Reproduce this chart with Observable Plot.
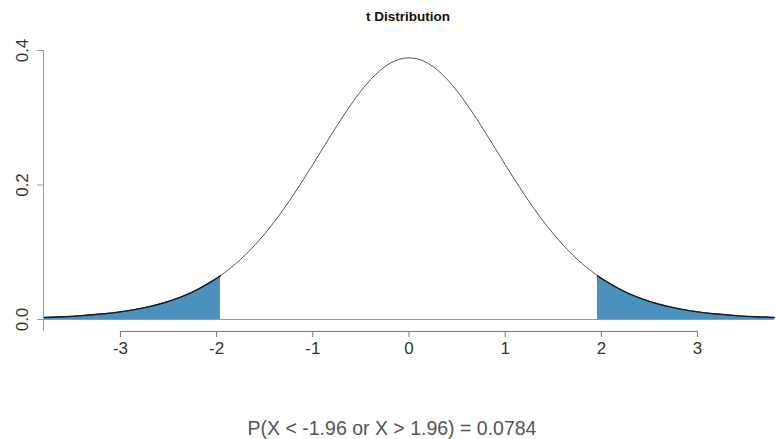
<!DOCTYPE html>
<html>
<head>
<meta charset="utf-8">
<script src="https://cdn.jsdelivr.net/npm/d3@7"></script>
<script src="https://cdn.jsdelivr.net/npm/@observablehq/plot@0.6"></script>
<style>
  html, body { margin: 0; padding: 0; background: #fff; }
  body { width: 776px; height: 439px; overflow: hidden; font-family: "Liberation Sans", Arial, sans-serif; }
  #title { box-sizing: border-box; width: 776px; height: 30px; line-height: 34px; padding-left: 40px;
           text-align: center; font-weight: bold; font-size: 13.5px; color: #111; }
  #chart { width: 776px; height: 360px; }
  #caption { box-sizing: border-box; width: 776px; height: 49px; padding-top: 28px; padding-left: 8px;
             line-height: 20px; text-align: center; font-size: 19.5px; color: #555; }
</style>
</head>
<body>
<div id="title">t Distribution</div>
<div id="chart"></div>
<div id="caption">P(X &lt; -1.96 or X &gt; 1.96) = 0.0784</div>
<script>
// t values read along the x axis
const tValues = [-3.8, -3.6, -3.4, -3.2, -3.0, -2.8, -2.6, -2.4, -2.2, -2.0, -1.96,
                 -1.8, -1.6, -1.4, -1.2, -1.0, -0.8, -0.6, -0.4, -0.2, 0,
                 0.2, 0.4, 0.6, 0.8, 1.0, 1.2, 1.4, 1.6, 1.8,
                 1.96, 2.0, 2.2, 2.4, 2.6, 2.8, 3.0, 3.2, 3.4, 3.6, 3.8];
// density heights
const density = [0.0029, 0.0040, 0.0057, 0.0081, 0.0114, 0.0161, 0.0227, 0.0319, 0.0444, 0.0611, 0.0651,
                 0.0831, 0.1111, 0.1454, 0.1857, 0.2304, 0.2766, 0.3203, 0.3566, 0.3807, 0.3891,
                 0.3807, 0.3566, 0.3203, 0.2766, 0.2304, 0.1857, 0.1454, 0.1111, 0.0831,
                 0.0651, 0.0611, 0.0444, 0.0319, 0.0227, 0.0161, 0.0114, 0.0081, 0.0057, 0.0040, 0.0029];
const cutoff = 1.96;
const xTicks = [-3, -2, -1, 0, 1, 2, 3];
const yTicks = [0, 0.2, 0.4];
const xDomain = [-3.8, 3.8];
const yDomain = [0, 0.4];

const curveData = tValues.map((x, i) => ({x, y: density[i]}));
const leftTail = curveData.filter(d => d.x <= -cutoff);
const rightTail = curveData.filter(d => d.x >= cutoff);

const axisGap = 12;
const fillColor = "#4a91bd";

const chart = Plot.plot({
  width: 776,
  height: 360,
  marginTop: 20,
  marginBottom: 59,
  marginLeft: 43,
  marginRight: 2,
  insetBottom: axisGap,
  style: {fontFamily: "Liberation Sans, Arial, sans-serif", fontSize: "17px", background: "#fff", color: "#333", overflow: "visible"},
  x: {domain: xDomain, label: null},
  y: {domain: yDomain, label: null},
  marks: [
    Plot.areaY(leftTail, {x: "x", y: "y", fill: fillColor, curve: "natural"}),
    Plot.areaY(rightTail, {x: "x", y: "y", fill: fillColor, curve: "natural"}),
    Plot.ruleY([0], {stroke: "#999", strokeWidth: 1}),
    Plot.line(curveData, {x: "x", y: "y", curve: "natural", stroke: "#555", strokeWidth: 1}),
    Plot.line(leftTail, {x: "x", y: "y", curve: "natural", stroke: "#1b1b1b", strokeWidth: 1.4}),
    Plot.line(rightTail, {x: "x", y: "y", curve: "natural", stroke: "#1b1b1b", strokeWidth: 1.4}),
    // y axis
    Plot.ruleX([xDomain[0]], {stroke: "#999", strokeWidth: 1}),
    Plot.axisY({ticks: yTicks, tickSize: 6, tickFormat: () => "", stroke: "#999", label: null}),
    Plot.text(yTicks, {y: d => d, frameAnchor: "left", dx: -21, rotate: -90, text: d => d.toFixed(1),
                       fontSize: 17, fill: "#333", textAnchor: "middle", lineAnchor: "middle"}),
    // x axis
    Plot.ruleY([0], {x1: xTicks[0], x2: xTicks[xTicks.length - 1], dy: axisGap, stroke: "#777", strokeWidth: 1}),
    Plot.axisX({ticks: xTicks, tickSize: 6, tickPadding: 4, fontSize: 17, stroke: "#777", fill: "#333",
                tickFormat: d => String(d), label: null})
  ]
});
document.getElementById("chart").appendChild(chart);
</script>
</body>
</html>
